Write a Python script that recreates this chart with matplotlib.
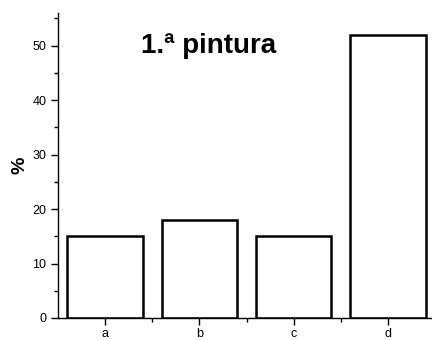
import matplotlib
matplotlib.use('Agg')
import matplotlib.pyplot as plt
from matplotlib.ticker import MultipleLocator, FixedLocator

plt.rcParams['font.family'] = ['Liberation Sans', 'DejaVu Sans']

# datos
categorias = ['a', 'b', 'c', 'd']
valores = [15, 18, 15, 52]
titulo = '1.ª pintura'

fig = plt.figure(figsize=(4.32, 3.40), dpi=100)
# el eje derecho queda un poco fuera de la imagen, como en el original
ax = fig.add_axes([58 / 432, 22 / 340, (435 - 58) / 432, (318 - 13) / 340])

x = range(len(categorias))
ax.bar(x, valores, width=0.8, facecolor='white', edgecolor='black', linewidth=1.8)

ax.set_xlim(-0.5, 3.5)
ax.set_ylim(0, 56)
ax.set_xticks(list(x))
ax.set_xticklabels(categorias, fontsize=9)
ax.xaxis.set_minor_locator(FixedLocator([0.5, 1.5, 2.5]))
ax.yaxis.set_major_locator(MultipleLocator(10))
ax.yaxis.set_minor_locator(MultipleLocator(5))
ax.tick_params(axis='both', which='major', direction='out', length=5, width=1, labelsize=9)
ax.tick_params(axis='x', which='major', pad=2)
ax.tick_params(axis='both', which='minor', direction='out', length=3, width=1)

for lado in ['top', 'right']:
    ax.spines[lado].set_visible(False)
for lado in ['left', 'bottom']:
    ax.spines[lado].set_linewidth(1)

ax.set_ylabel('%', fontsize=14, fontweight='bold', labelpad=3)
ax.text(1.1, 50, titulo, fontsize=20, fontweight='bold', ha='center', va='center')

fig.savefig('out.png', dpi=100, facecolor='white')
